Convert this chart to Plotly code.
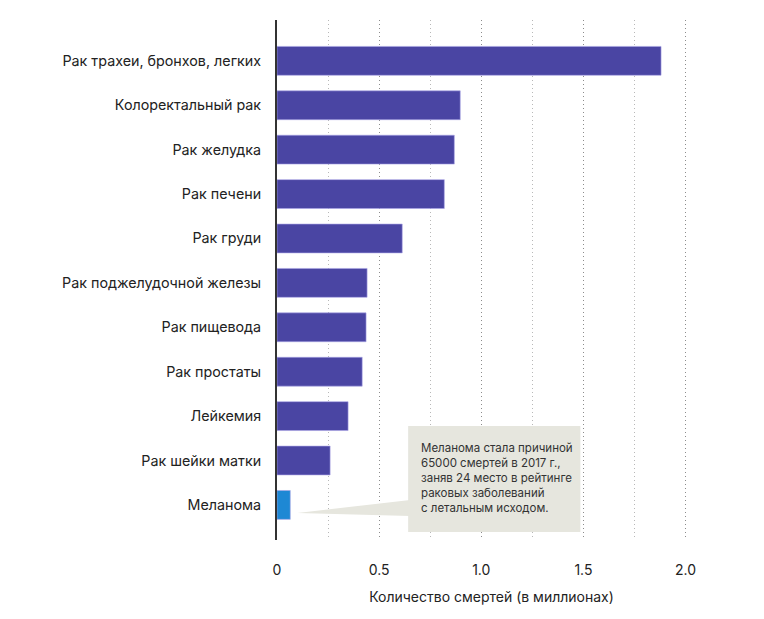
import plotly.graph_objects as go

categories = [
    "Рак трахеи, бронхов, легких",
    "Колоректальный рак",
    "Рак желудка",
    "Рак печени",
    "Рак груди",
    "Рак поджелудочной железы",
    "Рак пищевода",
    "Рак простаты",
    "Лейкемия",
    "Рак шейки матки",
    "Меланома",
]
deaths_millions = [1.88, 0.897, 0.868, 0.819, 0.613, 0.441, 0.436, 0.417, 0.348, 0.26, 0.065]
highlight = "Меланома"
tick_values = [0, 0.5, 1.0, 1.5, 2.0]
tick_labels = ["0", "0.5", "1.0", "1.5", "2.0"]
note_text = ("Меланома стала причиной<br>65000 смертей в 2017 г.,<br>"
             "заняв 24 место в рейтинге<br>раковых заболеваний<br>с летальным исходом.")

FONT = "Inter"
colors = ["#1E88D4" if c == highlight else "#4A45A3" for c in categories]

fig = go.Figure(go.Bar(
    x=deaths_millions, y=categories, orientation="h",
    marker=dict(color=colors, line=dict(color="rgba(170,165,230,0.6)", width=1)),
    width=0.65,
))

mel_idx = categories.index(highlight)
mel_val = deaths_millions[mel_idx]

# callout box + pointer
box_x0, box_x1 = 0.642, 1.485
box_y0, box_y1 = mel_idx - 1.78, mel_idx + 0.61
fig.add_shape(type="path",
              path=f"M {box_x0 + 0.01} {mel_idx - 0.11} L {mel_val + 0.035} {mel_idx + 0.18} L {box_x0 + 0.01} {mel_idx + 0.25} Z",
              xref="x", yref="y", fillcolor="#E6E6DE", line=dict(width=0), layer="above")
fig.add_shape(type="rect", x0=box_x0, x1=box_x1, y0=box_y0, y1=box_y1,
              xref="x", yref="y", fillcolor="#E6E6DE", line=dict(width=0), layer="above")
fig.add_annotation(x=box_x0 + 0.055, y=mel_idx - 0.6, xref="x", yref="y",
                   text=note_text, showarrow=False, xanchor="left", yanchor="middle",
                   align="left", font=dict(size=11.5, color="#333333", family=FONT))

fig.update_layout(
    width=756, height=611,
    margin=dict(l=269, r=58, t=12, b=79),
    plot_bgcolor="white", paper_bgcolor="white",
    showlegend=False,
    bargap=0.35,
    font=dict(family=FONT, size=14, color="#222222"),
    xaxis=dict(
        range=[0, 2.1],
        tickvals=tick_values, ticktext=tick_labels,
        showgrid=True, gridcolor="#8C8C8C", griddash="1px,3px", gridwidth=1,
        minor=dict(dtick=0.25, tick0=0, showgrid=True, gridcolor="#B8B8B8", griddash="1px,3px", gridwidth=1),
        zeroline=False, showline=False,
        ticks="", ticklabelstandoff=20,
        tickfont=dict(size=14, color="#222222", family=FONT),
        title=dict(text="Количество смертей (в миллионах)", font=dict(size=14, color="#222222", family=FONT), standoff=15),
    ),
    yaxis=dict(
        range=[10.79, -0.92],
        showgrid=False, zeroline=False,
        showline=True, linecolor="#333333", linewidth=2,
        ticks="", ticklabelstandoff=11,
        tickfont=dict(size=14.3, color="#222222", family=FONT),
    ),
)

fig.write_html("out.html")
